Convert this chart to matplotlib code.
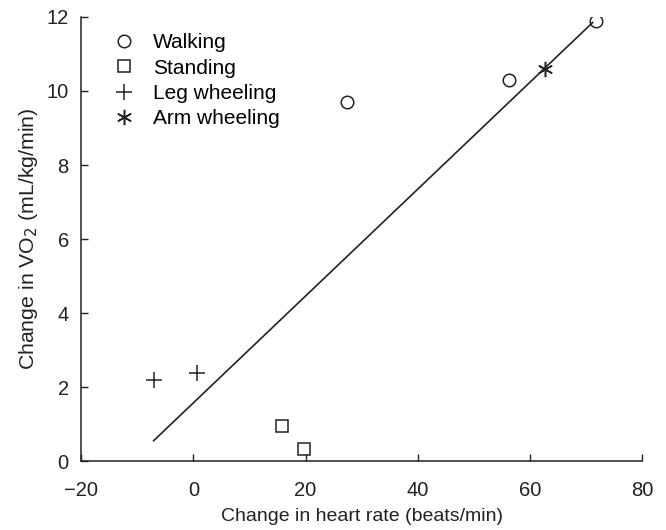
import numpy as np
import matplotlib.pyplot as plt

plt.rcParams['font.family'] = ['Liberation Sans', 'DejaVu Sans']

# datos
walk_x = [27.4, 56.2, 71.8]
walk_y = [9.7, 10.3, 11.9]
stand_x = [15.8, 19.7]
stand_y = [0.95, 0.32]
leg_x = [-7.1, 0.6]
leg_y = [2.2, 2.37]
arm_x = [62.7]
arm_y = [10.6]
fit_x = [-7.1, 71.2]
fit_y = [0.55, 11.85]

col = '#222222'

fig = plt.figure(figsize=(6.66, 5.3), dpi=100)
ax = fig.add_axes([0.122, 0.130, 0.842, 0.838])

ax.plot(fit_x, fit_y, '-', color=col, lw=1.2)
ax.plot(walk_x, walk_y, 'o', mfc='none', mec=col, ms=9, mew=1.1, label='Walking', ls='none')
ax.plot(stand_x, stand_y, 's', mfc='none', mec=col, ms=8, mew=1.1, label='Standing', ls='none')
ax.plot(leg_x, leg_y, '+', color=col, ms=11, mew=1.1, label='Leg wheeling', ls='none')
ax.plot(arm_x, arm_y, marker=(6, 2, 0), color=col, ms=11, mew=1.1, label='Arm wheeling', ls='none')

ax.set_xlim(-20, 80)
ax.set_ylim(0, 12)
ax.set_xticks([-20, 0, 20, 40, 60, 80])
ax.set_yticks([0, 2, 4, 6, 8, 10, 12])
ax.set_xticklabels(['\u221220', '0', '20', '40', '60', '80'])
ax.tick_params(direction='in', length=5, width=1, labelsize=14.5, colors=col)
ax.tick_params(axis='x', pad=14)
ax.tick_params(axis='y', pad=9)
for s in ['top', 'right']:
    ax.spines[s].set_visible(False)
for s in ['left', 'bottom']:
    ax.spines[s].set_color(col)
    ax.spines[s].set_linewidth(1.1)

ax.set_xlabel('Change in heart rate (beats/min)', fontsize=14, color=col, labelpad=6)
ax.set_ylabel('Change in VO$_2$ (mL/kg/min)', fontsize=15.3, color=col, labelpad=5)

ax.legend(loc='upper left', frameon=False, fontsize=15, handletextpad=0.8,
          labelspacing=0.3, bbox_to_anchor=(0.02, 1.005), handlelength=1.2)

plt.savefig('out.png', dpi=100)
